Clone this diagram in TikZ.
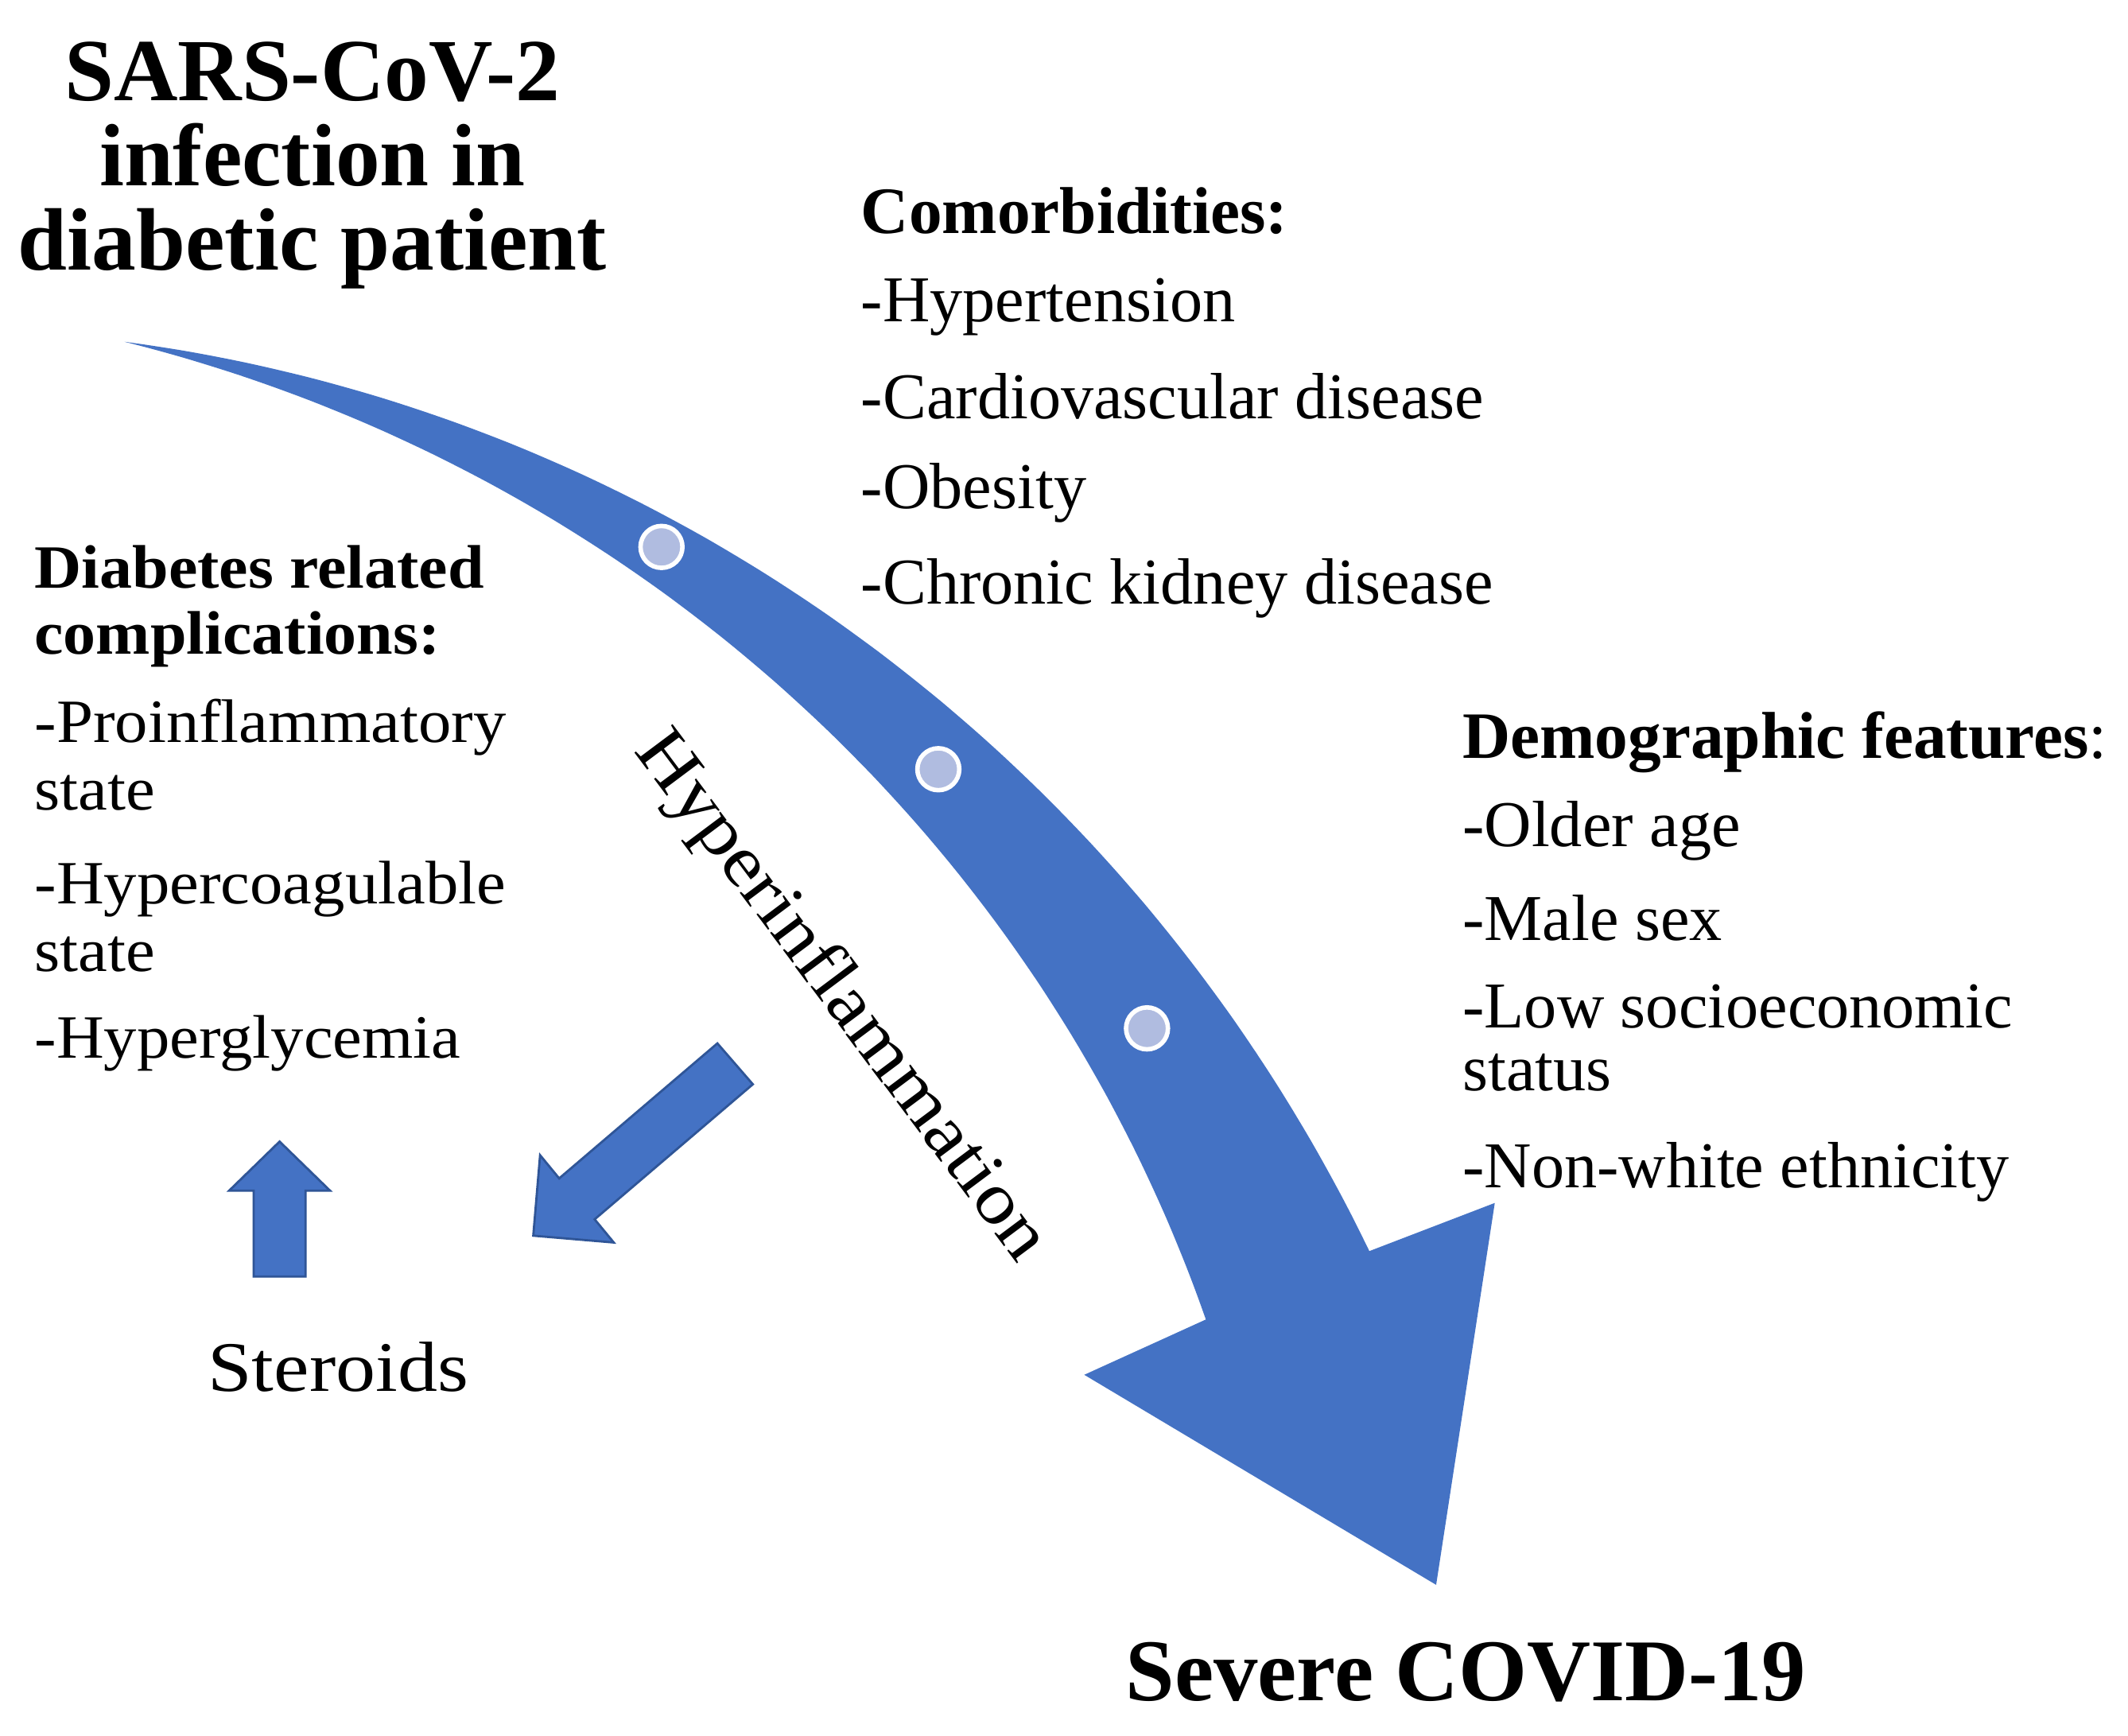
\documentclass[tikz,border=0pt]{standalone}
\usepackage{fontspec}
\setmainfont{Liberation Serif}
\newfontfamily\widefont[FakeStretch=1.07]{Liberation Serif}
\newfontfamily\widerfont[FakeStretch=1.12]{Liberation Serif}
\newfontfamily\wideboldfont[FakeStretch=1.06]{Liberation Serif}
\definecolor{arrowblue}{HTML}{4472C4}
\definecolor{edgeblue}{HTML}{2F5597}
\definecolor{dotfill}{HTML}{B0BCE0}
% lines stacked in one box whose baseline is that of the first line
\newcommand{\stackL}[2]{\vtop{\hbox{#1}\hbox{#2}}}
\newcommand{\stackC}[3]{\vtop{\halign{\hfil##\hfil\cr#1\cr#2\cr#3\cr}}}
\tikzset{
  titletext/.style={font=\fontsize{31.7}{30.3}\selectfont\bfseries, anchor=base, inner sep=0pt},
  rhead/.style={font=\fontsize{23.7}{24}\selectfont\bfseries, anchor=base west, inner sep=0pt},
  ritem/.style={font=\fontsize{23.4}{22.5}\selectfont, anchor=base west, inner sep=0pt},
  lhead/.style={font=\wideboldfont\fontsize{22}{23.6}\selectfont\bfseries, anchor=base west, inner sep=0pt},
  litem/.style={font=\widefont\fontsize{22}{24.1}\selectfont, anchor=base west, inner sep=0pt},
  blockarrow/.style={fill=arrowblue, draw=edgeblue, line width=0.8pt, line join=miter},
  bigarrow/.style={fill=arrowblue},
  dotmark/.style={circle, fill=dotfill, draw=white, line width=1.6pt, minimum size=15pt, inner sep=0pt}
}
\begin{document}
\begin{tikzpicture}[x=0.01715cm, y=-0.01715cm]
\useasboundingbox[fill=white] (0,0) rectangle (1560.3,1272.3);

% big curved arrow: band along a circle (centre (-126,1390), radius 1160)
% whose width grows linearly from the tail to the neck
\path[bigarrow]
  plot[domain=0:56.5, samples=80, smooth]
    ({-126+(1160+1.15*\x)*cos(\x-79.2)}, {1390+(1160+1.15*\x)*sin(\x-79.2)})
  -- (1096,882) -- (1053,1162) -- (795,1008)
  -- plot[domain=56.5:0, samples=80, smooth]
    ({-126+(1160-1.15*\x)*cos(\x-79.2)}, {1390+(1160-1.15*\x)*sin(\x-79.2)})
  -- cycle;

\node[dotmark] (d1) at (485,401) {};
\node[dotmark] (d2) at (688,564) {};
\node[dotmark] (d3) at (841,754) {};

% small block arrows
\path[blockarrow] (186,936) -- (186,873) -- (168,873) -- (205,837) -- (242,873) -- (224,873) -- (224,936) -- cycle;
\path[blockarrow] (552,795) -- (436,894) -- (450,911) -- (391,906) -- (396,847) -- (410,864) -- (526,765) -- cycle;

% title
\node[titletext] (title) at (229,74) {\stackC{SARS-CoV-2}{infection in}{diabetic patient}};

% comorbidities
\node[rhead] (c0) at (631,171) {Comorbidities:};
\node[ritem] (c1) at (631,236) {-Hypertension};
\node[ritem] (c2) at (631,307) {-Cardiovascular disease};
\node[ritem] (c3) at (631,373) {-Obesity};
\node[ritem] (c4) at (631,443) {-Chronic kidney disease};

% demographic
\node[rhead] (g0) at (1072,556) {Demographic features\mdseries:};
\node[ritem] (g1) at (1072,620.6) {-Older age};
\node[ritem] (g2) at (1072,689.6) {-Male sex};
\node[ritem] (g3) at (1072,753.5) {\stackL{-Low socioeconomic}{status}};
\node[ritem] (g5) at (1072,870.6) {-Non-white ethnicity};

% diabetes related
\node[lhead] (l0) at (25,431) {\stackL{Diabetes related}{complications:}};
\node[litem] (l2) at (25,544.3) {\stackL{-Proinflammatory}{state}};
\node[litem] (l4) at (25,662.7) {\stackL{-Hypercoagulable}{state}};
\node[litem] (l6) at (25,776) {-Hyperglycemia};

% others
\node[font=\widerfont\fontsize{25.4}{26}\selectfont, anchor=base west, inner sep=0pt] (st) at (152,1020) {Steroids};
\node[font=\widerfont\fontsize{26}{26}\selectfont, anchor=base west, rotate=-53.2, inner sep=0pt] (hy) at (464.4,550.1) {Hyperinflammation};
\node[font=\fontsize{31.5}{32}\selectfont\bfseries, anchor=base west, inner sep=0pt] (sev) at (825,1247) {Severe COVID-19};
\end{tikzpicture}
\end{document}
